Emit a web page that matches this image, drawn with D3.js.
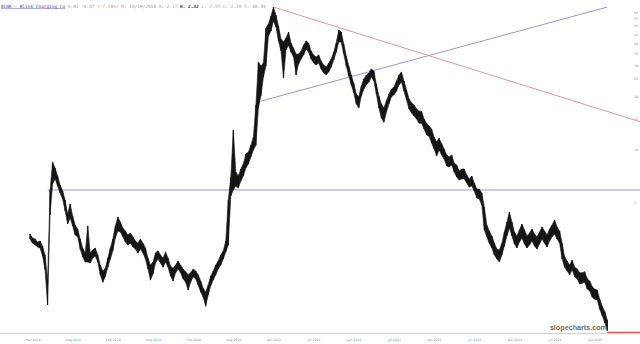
<!DOCTYPE html>
<html><head><meta charset="utf-8">
<script src="https://cdn.jsdelivr.net/npm/d3@7"></script>
<style>body{margin:0;background:#fff;overflow:hidden}</style>
</head><body>
<svg id="c" width="640" height="344"></svg>
<script>
// BLNK price bands (high / low) sampled along the bar axis
const highs = [3.29,3.12,3.08,2.96,3.00,2.81,2.50,1.80,5.85,8.43,7.79,7.03,6.25,5.77,5.13,4.28,4.87,4.17,3.70,3.51,
3.08,2.74,2.57,3.65,2.57,2.67,2.74,2.50,2.19,2.03,2.10,2.40,2.74,3.08,3.65,4.11,3.85,3.56,3.42,3.25,
3.33,3.17,3.00,2.92,3.08,2.92,2.74,2.40,2.19,2.28,2.57,2.64,2.50,2.40,2.60,2.40,2.16,2.10,2.19,2.31,
2.19,2.08,2.01,1.93,1.98,2.08,2.03,1.93,1.78,1.62,1.54,1.69,1.90,2.03,2.19,2.31,2.50,2.64,3.00,5.13,
6.93,12.8,7.40,7.03,7.70,8.22,9.37,9.61,10.5,11.7,17.8,31.2,29.6,30.8,48.6,51.2,56.9,64.0,57.6,49.9,
42.1,40.5,42.7,46.2,40.0,37.4,34.6,34.6,36.0,38.9,41.1,40.0,36.0,34.2,33.3,34.2,31.6,30.0,29.2,30.8,
32.5,35.5,40.0,47.4,46.2,39.5,33.8,29.6,26.3,23.6,20.5,19.8,22.8,25.0,26.3,27.0,28.5,27.7,23.3,20.0,
18.0,17.1,18.8,20.5,21.9,22.5,24.3,26.3,27.4,24.3,21.6,19.3,18.3,17.8,16.9,16.4,16.4,14.8,14.0,13.5,
13.0,11.7,11.0,11.5,10.7,10.0,9.25,9.01,9.25,8.32,8.11,7.50,7.70,7.70,7.12,6.76,7.03,6.41,5.93,5.93,
5.62,4.68,3.70,3.42,3.21,2.92,2.70,2.67,2.92,3.38,3.85,4.39,3.85,3.38,3.21,3.47,3.75,3.47,3.21,3.33,
3.51,3.29,3.17,3.38,3.60,3.42,3.25,3.51,3.70,3.95,3.60,3.42,2.92,2.44,2.31,2.19,2.34,2.13,2.08,1.98,
1.98,2.01,1.83,1.78,1.65,1.60,1.58,1.40,1.28,1.19,1.07];
const lows = [3.08,2.92,2.85,2.78,2.74,2.47,2.06,1.30,4.22,6.33,6.76,6.17,5.62,5.20,4.45,3.75,4.06,3.65,3.25,3.17,
2.70,2.44,2.28,2.28,2.25,2.40,2.47,2.28,1.93,1.75,1.88,2.13,2.37,2.64,3.12,3.42,3.38,3.17,2.96,2.85,
2.92,2.78,2.70,2.57,2.70,2.57,2.37,2.08,1.80,1.95,2.25,2.37,2.25,2.13,2.28,2.13,1.90,1.78,1.98,2.08,
1.98,1.83,1.75,1.58,1.75,1.88,1.83,1.69,1.54,1.44,1.28,1.48,1.67,1.80,1.93,2.08,2.19,2.37,2.60,2.85,
5.41,5.85,6.17,6.01,6.58,7.03,7.79,8.22,9.01,9.87,10.5,17.1,20.0,25.6,29.6,43.8,46.8,53.3,49.3,41.1,
36.0,25.3,36.5,38.9,35.5,33.3,26.3,30.4,32.5,34.2,36.9,35.5,32.5,30.8,30.0,30.8,28.5,27.0,26.3,27.4,
29.2,32.0,35.5,40.5,40.5,34.6,29.6,26.0,23.1,20.8,18.0,17.1,20.0,21.9,23.1,24.0,25.6,24.3,20.5,17.1,
15.0,14.2,16.2,18.0,19.8,20.3,21.3,23.1,24.0,21.3,19.0,16.9,16.0,15.4,14.8,14.0,14.0,13.0,12.0,11.8,
10.8,10.0,9.13,9.87,9.25,8.78,8.00,7.90,8.11,7.40,6.93,6.67,6.76,6.76,6.41,6.09,6.17,5.77,5.27,5.20,
4.81,3.47,3.17,2.92,2.74,2.50,2.37,2.28,2.50,2.81,3.21,3.56,3.21,2.89,2.74,2.96,3.12,2.89,2.74,2.85,
3.00,2.81,2.70,2.89,3.08,2.92,2.78,3.00,3.17,3.29,3.08,2.92,2.37,2.13,2.03,1.93,2.06,1.88,1.83,1.71,
1.73,1.75,1.60,1.56,1.44,1.40,1.39,1.23,1.13,1.03,0.93];

const xTickLabels = ["Mar 2018","Aug 2018","Feb 2019","Aug 2019","Feb 2020","Aug 2020","Jan 2021","Jul 2021",
  "Jan 2022","Jul 2022","Jan 2023","Jul 2023","Jan 2024","Jul 2024","Jan 2025"];
const xTickIndex = [1,17,33,49,65,81,97,113,129,145,161,177,193,209,225];
const yTicks = [5,10,15,20,25,30,35,40,45,50,55,60];
const lastPrice = 0.91;
const levelLine = {start: 7, price: 5.85};
const redTrend = [[97, 64.0], [243, 14.3]];
const blueTrend = [[92, 18.7], [230, 64.0]];

const svg = d3.select("#c");
const x = d3.scaleLinear().domain([0, highs.length - 1]).range([30, 607.3]);
const y = d3.scaleLog().domain([5, 10]).range([202, 149]);

// axis baseline
svg.append("line").attr("x1",0).attr("x2",640).attr("y1",333.5).attr("y2",333.5)
  .attr("stroke","#cfcfcf").attr("stroke-width",1);

// x labels
const gx = svg.append("g").attr("transform","translate(0,336)")
  .call(d3.axisBottom(x).tickValues(xTickIndex).tickSize(0)
    .tickFormat((d,i)=>xTickLabels[i]));
gx.select(".domain").remove();
gx.selectAll("text").attr("font-size",3.2).attr("font-family","DejaVu Sans").attr("fill","#8a8aae").attr("dy","0.6em");

// y labels
const gy = svg.append("g").attr("transform","translate(634,0)")
  .call(d3.axisRight(y).tickValues(yTicks).tickSize(0).tickFormat(d3.format("d")));
gy.select(".domain").remove();
gy.selectAll("text").attr("font-size",3.2).attr("font-family","DejaVu Sans").attr("fill","#8a8aae").attr("x",0);

// horizontal level line
svg.append("line").attr("x1",x(levelLine.start)).attr("x2",640)
  .attr("y1",y(levelLine.price)).attr("y2",y(levelLine.price))
  .attr("stroke","#8c90c0").attr("stroke-width",0.9);

// trend lines
svg.append("line").attr("x1",x(redTrend[0][0])).attr("y1",y(redTrend[0][1]))
  .attr("x2",x(redTrend[1][0])).attr("y2",y(redTrend[1][1]))
  .attr("stroke","#e08a8a").attr("stroke-width",0.9);
svg.append("line").attr("x1",x(blueTrend[0][0])).attr("y1",y(blueTrend[0][1]))
  .attr("x2",x(blueTrend[1][0])).attr("y2",y(blueTrend[1][1]))
  .attr("stroke","#8c8cd0").attr("stroke-width",0.9);

// price band
const idx = d3.range(highs.length);
svg.append("path").datum(idx)
  .attr("d", d3.area().x(i=>x(i)).y0(i=>y(lows[i])).y1(i=>y(highs[i])))
  .attr("fill","#1a1a1a").attr("stroke","#1a1a1a").attr("stroke-width",0.6);
svg.append("g").selectAll("line").data(idx).join("line")
  .attr("x1",i=>x(i)).attr("x2",i=>x(i))
  .attr("y1",i=>y(lows[i])).attr("y2",i=>y(highs[i]))
  .attr("stroke","#111").attr("stroke-width",1.1);

// last price line
svg.append("line").attr("x1",x(highs.length-1)).attr("x2",640)
  .attr("y1",y(lastPrice)).attr("y2",y(lastPrice))
  .attr("stroke","#d02a2a").attr("stroke-width",1);

// watermark
svg.append("text").attr("x",607).attr("y",329.5).attr("text-anchor","end")
  .attr("font-family","Liberation Sans").attr("font-weight","bold").attr("font-size",7.2)
  .attr("fill","#6e6e6e").text("slopecharts.com");

// header
const hdr = svg.append("text").attr("x",1).attr("y",7.5)
  .attr("font-family","DejaVu Sans Mono").attr("font-size",4.45).attr("fill","#9a9a9a")
  .attr("xml:space","preserve");
hdr.append("tspan").attr("fill","#4848b8").attr("text-decoration","underline").text("BLNK - Blink Charging Co");
hdr.append("tspan").text(" 0.91 ");
hdr.append("tspan").attr("fill","#e07a7a").text("-0.07 (-7.14%)");
hdr.append("tspan").text(" D: 10/19/2018 O: 2.17 ");
hdr.append("tspan").attr("fill","#333").attr("font-weight","bold").text("H: 2.32");
hdr.append("tspan").text(" L: 2.17 C: 2.19 V: 40.33");
</script>
</body></html>
